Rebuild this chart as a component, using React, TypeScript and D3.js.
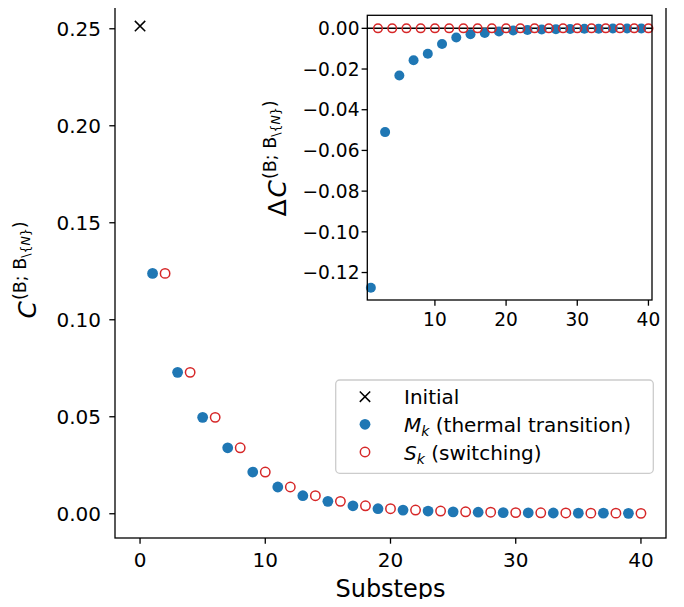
import React from "react";
import * as d3 from "d3";

// values
const initialSteps = [0];
const initialValues = [0.2514];

const mSteps = [1, 3, 5, 7, 9, 11, 13, 15, 17, 19, 21, 23, 25, 27, 29, 31, 33, 35, 37, 39];
const mValues = [
  0.1239, 0.0729, 0.0497, 0.034, 0.0215, 0.0138, 0.0093, 0.0064, 0.0041, 0.0026,
  0.0019, 0.0014, 0.001, 0.0008, 0.0006, 0.0005, 0.0004, 0.0003, 0.0003, 0.0002,
];

const sSteps = [2, 4, 6, 8, 10, 12, 14, 16, 18, 20, 22, 24, 26, 28, 30, 32, 34, 36, 38, 40];
const sValues = [
  0.1239, 0.0729, 0.0497, 0.034, 0.0215, 0.0138, 0.0093, 0.0064, 0.0041, 0.0026,
  0.0019, 0.0014, 0.001, 0.0008, 0.0006, 0.0005, 0.0004, 0.0003, 0.0003, 0.0002,
];

// inset: change of C per substep
const mDelta = [
  -0.1275, -0.051, -0.0232, -0.0157, -0.0125, -0.0077, -0.0045, -0.0029, -0.0023, -0.0015,
  -0.0011, -0.0008, -0.0006, -0.0004, -0.0003, -0.0002, -0.0002, -0.0001, -0.0001, -0.0001,
];
const sDelta = [0, 0, 0, 0, 0, 0, 0, 0, 0, 0, 0, 0, 0, 0, 0, 0, 0, 0, 0, 0];

const mainXTicks = [0, 10, 20, 30, 40];
const mainYTicks = [0, 0.05, 0.1, 0.15, 0.2, 0.25];
const insetXTicks = [10, 20, 30, 40];
const insetYTicks = [0, -0.02, -0.04, -0.06, -0.08, -0.1, -0.12];

const BLUE = "#1f77b4";
const RED = "#d62728";
const FONT = "DejaVu Sans, sans-serif";

const Cross = ({ x, y, s }: { x: number; y: number; s: number }) => (
  <path
    d={`M${x - s},${y - s}L${x + s},${y + s}M${x - s},${y + s}L${x + s},${y - s}`}
    stroke="black"
    strokeWidth={1.5}
  />
);

// superscript (B; B_\{N}) shared by both axis labels
const Sup = () => (
  <>
    <tspan fontSize={17.5} dy={-10} dx={1}>(B; B</tspan>
    <tspan fontSize={12.5} dy={4}>{"\\{"}</tspan>
    <tspan fontSize={12.5} fontStyle="italic">N</tspan>
    <tspan fontSize={12.5}>{"}"}</tspan>
    <tspan fontSize={17.5} dy={-4}>)</tspan>
  </>
);

export default function App() {
  const x = d3.scaleLinear().domain([-2, 42]).range([115, 666]);
  const y = d3.scaleLinear().domain([-0.0125, 0.2638]).range([538, 2]);

  const xi = d3.scaleLinear().domain([0.5, 40.5]).range([367.3, 652]);
  const yi = d3.scaleLinear().domain([-0.1335, 0.0064]).range([300, 15.3]);

  const fmt2 = d3.format(".2f");

  const [x0, x1] = x.range();
  const [y0, y1] = y.range();
  const [ix0, ix1] = xi.range();
  const [iy0, iy1] = yi.range();

  return (
    <svg width={684} height={607} style={{ display: "block", margin: "-8px" }} fontFamily={FONT}>
      <rect width={684} height={607} fill="white" />

      {/* main axes points */}
      {initialSteps.map((s, i) => (
        <Cross key={"i" + i} x={x(s)} y={y(initialValues[i])} s={5.2} />
      ))}
      {mSteps.map((s, i) => (
        <circle key={"m" + i} cx={x(s)} cy={y(mValues[i])} r={5.4} fill={BLUE} />
      ))}
      {sSteps.map((s, i) => (
        <circle key={"s" + i} cx={x(s)} cy={y(sValues[i])} r={4.7} fill="none" stroke={RED} strokeWidth={1.5} />
      ))}

      {/* main frame */}
      <rect x={x0} y={y1} width={x1 - x0} height={y0 - y1} fill="none" stroke="black" strokeWidth={1.3} />

      {mainXTicks.map((t) => (
        <g key={"mx" + t}>
          <line x1={x(t)} x2={x(t)} y1={y0} y2={y0 + 5.7} stroke="black" strokeWidth={1.3} />
          <text x={x(t)} y={566.7} textAnchor="middle" fontSize={20}>
            {t}
          </text>
        </g>
      ))}
      {mainYTicks.map((t) => (
        <g key={"my" + t}>
          <line x1={x0 - 5.7} x2={x0} y1={y(t)} y2={y(t)} stroke="black" strokeWidth={1.3} />
          <text x={101} y={y(t)} dy="0.36em" textAnchor="end" fontSize={20}>
            {fmt2(t)}
          </text>
        </g>
      ))}

      <text x={(x0 + x1) / 2} y={596.5} textAnchor="middle" fontSize={24}>
        Substeps
      </text>

      <text transform="translate(36,270) rotate(-90)" textAnchor="middle" fontSize={25}>
        <tspan fontStyle="italic">C</tspan>
        <Sup />
      </text>

      {/* legend */}
      <rect x={335.7} y={380} width={317.6} height={93.3} rx={4} fill="white" fillOpacity={0.8} stroke="#cccccc" strokeWidth={1.3} />
      <Cross x={365} y={396.7} s={5.2} />
      <circle cx={365} cy={424.3} r={5.4} fill={BLUE} />
      <circle cx={365} cy={452} r={4.7} fill="none" stroke={RED} strokeWidth={1.5} />
      <text x={404} y={403.5} fontSize={20}>Initial</text>
      <text x={404} y={431.5} fontSize={20}>
        <tspan fontStyle="italic">M</tspan>
        <tspan fontStyle="italic" fontSize={14} dy={4}>k</tspan>
        <tspan dy={-4}> (thermal transition)</tspan>
      </text>
      <text x={404} y={459.5} fontSize={20}>
        <tspan fontStyle="italic">S</tspan>
        <tspan fontStyle="italic" fontSize={14} dy={4}>k</tspan>
        <tspan dy={-4}> (switching)</tspan>
      </text>

      {/* inset */}
      <rect x={ix0} y={iy1} width={ix1 - ix0} height={iy0 - iy1} fill="white" />
      <line x1={ix0} x2={ix1} y1={yi(0)} y2={yi(0)} stroke="black" strokeWidth={1.5} />
      {mSteps.map((s, i) => (
        <circle key={"im" + i} cx={xi(s)} cy={yi(mDelta[i])} r={5} fill={BLUE} />
      ))}
      {sSteps.map((s, i) => (
        <circle key={"is" + i} cx={xi(s)} cy={yi(sDelta[i])} r={4.3} fill="none" stroke={RED} strokeWidth={1.5} />
      ))}
      <rect x={ix0} y={iy1} width={ix1 - ix0} height={iy0 - iy1} fill="none" stroke="black" strokeWidth={1.3} />

      {insetXTicks.map((t) => (
        <g key={"ix" + t}>
          <line x1={xi(t)} x2={xi(t)} y1={iy0} y2={iy0 + 5.7} stroke="black" strokeWidth={1.3} />
          <text x={xi(t)} y={326} textAnchor="middle" fontSize={18.6}>
            {t}
          </text>
        </g>
      ))}
      {insetYTicks.map((t) => (
        <g key={"iy" + t}>
          <line x1={ix0 - 5.7} x2={ix0} y1={yi(t)} y2={yi(t)} stroke="black" strokeWidth={1.3} />
          <text x={359.5} y={yi(t)} dy="0.36em" textAnchor="end" fontSize={18.6}>
            {fmt2(t)}
          </text>
        </g>
      ))}

      <text transform="translate(286,158.5) rotate(-90)" textAnchor="middle" fontSize={25}>
        <tspan>Δ</tspan>
        <tspan fontStyle="italic" dx={2}>C</tspan>
        <Sup />
      </text>
    </svg>
  );
}
